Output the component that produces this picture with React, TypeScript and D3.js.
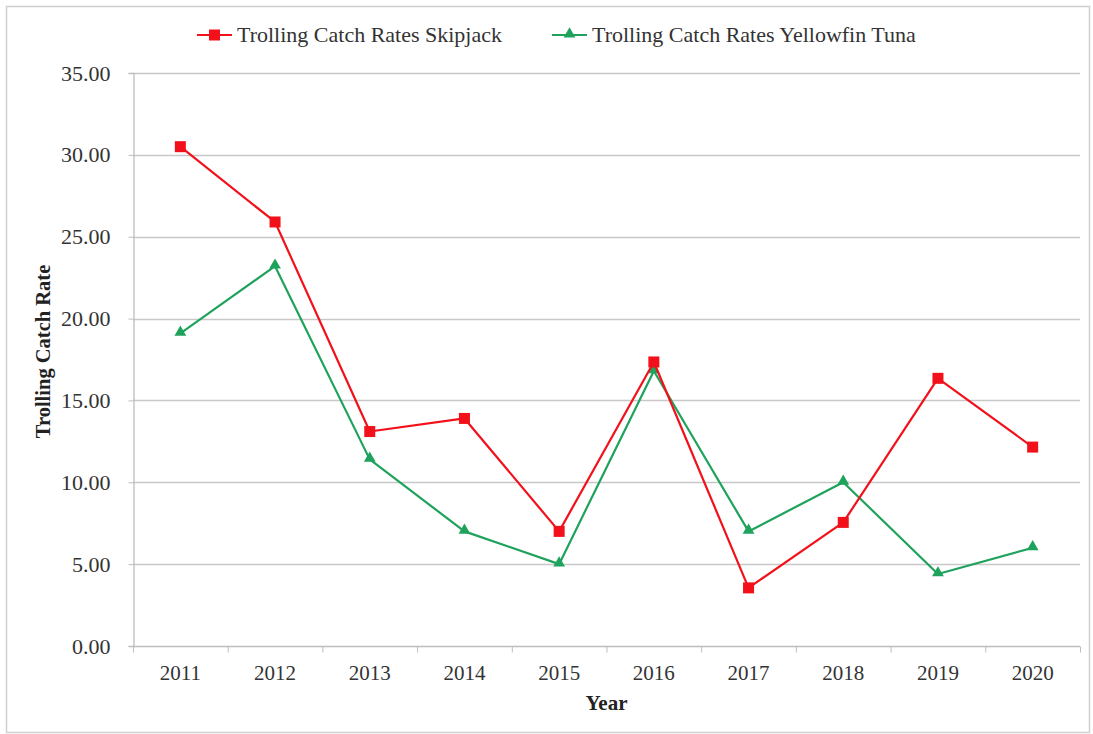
import React, { Component } from "react";
import * as d3 from "d3";

const years = ["2011", "2012", "2013", "2014", "2015", "2016", "2017", "2018", "2019", "2020"];
const skipjack = [30.5, 25.9, 13.1, 13.9, 7.0, 17.35, 3.55, 7.55, 16.35, 12.15];
const yellowfin = [19.1, 23.2, 11.4, 7.0, 5.0, 16.8, 7.0, 10.0, 4.4, 6.0];
const yTicks = [0, 5, 10, 15, 20, 25, 30, 35];
const seriesNames = ["Trolling Catch Rates Skipjack", "Trolling Catch Rates Yellowfin Tuna"];

class CatchRateChart extends Component<any> {
  myRef: React.RefObject<HTMLDivElement | null>;

  constructor(props: any) {
    super(props);
    this.myRef = React.createRef();
  }

  drawGraph = () => {
    var W = 1093;
    var H = 734;
    var margin = { top: 73, right: 13, bottom: 88, left: 133 };
    var width = W - margin.left - margin.right;
    var height = H - margin.top - margin.bottom;
    var font = "'Liberation Serif', 'Times New Roman', serif";

    d3.select(this.myRef.current).select("svg").remove();

    var root = d3
      .select(this.myRef.current)
      .append("svg")
      .attr("width", W)
      .attr("height", H)
      .style("display", "block")
      .style("background", "#fff");

    // outer chart frame
    root
      .append("rect")
      .attr("x", 6.5)
      .attr("y", 6.5)
      .attr("width", W - 10)
      .attr("height", H - 8)
      .attr("fill", "#fff")
      .attr("stroke", "#d0d0d0")
      .attr("stroke-width", 1.5);

    var svg = root.append("g").attr("transform", `translate(${margin.left},${margin.top})`);

    var x = d3.scaleBand().domain(years).range([0, width]);
    var y = d3.scaleLinear().domain([0, 35]).range([height, 0]);

    // gridlines
    svg
      .selectAll(".grid")
      .data(yTicks.filter((t) => t > 0))
      .enter()
      .append("line")
      .attr("x1", 0)
      .attr("x2", width)
      .attr("y1", (d) => Math.round(y(d)) + 0.5)
      .attr("y2", (d) => Math.round(y(d)) + 0.5)
      .attr("stroke", "#c8c8c8")
      .attr("stroke-width", 1.3);

    // y axis
    var yAxis = svg
      .append("g")
      .attr("transform", "translate(0.5,0)")
      .call(d3.axisLeft(y).tickValues(yTicks).tickSize(5).tickPadding(18).tickFormat(d3.format(".2f")));
    yAxis.attr("font-family", font).attr("font-size", 22);
    yAxis.select(".domain").attr("stroke", "#bdbdbd").attr("stroke-width", 1.3);
    yAxis.selectAll(".tick line").attr("stroke", "#bdbdbd");
    yAxis.selectAll("text").attr("fill", "#333");

    // x axis, ticks between categories
    var xAxis = svg.append("g").attr("transform", `translate(0,${height + 0.5})`);
    xAxis
      .append("line")
      .attr("x1", 0)
      .attr("x2", width)
      .attr("stroke", "#bdbdbd")
      .attr("stroke-width", 1.3);
    var bounds = years.map((d) => x(d) as number).concat([width]);
    xAxis
      .selectAll(".xtick")
      .data(bounds)
      .enter()
      .append("line")
      .attr("x1", (d) => d + 0.5)
      .attr("x2", (d) => d + 0.5)
      .attr("y1", 0)
      .attr("y2", 6)
      .attr("stroke", "#bdbdbd");
    xAxis
      .selectAll(".xlabel")
      .data(years)
      .enter()
      .append("text")
      .attr("x", (d) => (x(d) as number) + x.bandwidth() / 2)
      .attr("y", 33)
      .attr("text-anchor", "middle")
      .attr("font-family", font)
      .attr("font-size", 21)
      .attr("fill", "#333")
      .text((d) => d);

    // axis titles
    root
      .append("text")
      .attr("x", margin.left + width / 2)
      .attr("y", 710)
      .attr("text-anchor", "middle")
      .attr("font-family", font)
      .attr("font-size", 21)
      .attr("font-weight", "bold")
      .attr("fill", "#222")
      .text("Year");
    root
      .append("text")
      .attr("transform", `translate(50,${margin.top + height / 2 - 8}) rotate(-90)`)
      .attr("text-anchor", "middle")
      .attr("font-family", font)
      .attr("font-size", 20.5)
      .attr("font-weight", "bold")
      .attr("fill", "#222")
      .text("Trolling Catch Rate");

    var cx = (d: string) => (x(d) as number) + x.bandwidth() / 2;
    var line = d3
      .line<number>()
      .x((d, i) => cx(years[i]))
      .y((d) => y(d));

    var colors = ["#f2111b", "#1fa25c"];

    // yellowfin first so skipjack sits on top
    svg
      .append("path")
      .datum(yellowfin)
      .attr("fill", "none")
      .attr("stroke", colors[1])
      .attr("stroke-width", 2.2)
      .attr("stroke-linejoin", "round")
      .attr("d", line);
    var tri = d3.symbol().type(d3.symbolTriangle).size(60);
    svg
      .selectAll(".tri")
      .data(yellowfin)
      .enter()
      .append("path")
      .attr("transform", (d, i) => `translate(${cx(years[i])},${y(d) - 1})`)
      .attr("d", tri)
      .attr("fill", colors[1]);

    svg
      .append("path")
      .datum(skipjack)
      .attr("fill", "none")
      .attr("stroke", colors[0])
      .attr("stroke-width", 2.2)
      .attr("stroke-linejoin", "round")
      .attr("d", line);
    svg
      .selectAll(".sq")
      .data(skipjack)
      .enter()
      .append("rect")
      .attr("x", (d, i) => cx(years[i]) - 5.5)
      .attr("y", (d) => y(d) - 5.5)
      .attr("width", 11)
      .attr("height", 11)
      .attr("fill", colors[0]);

    // legend
    var legend = root.append("g").attr("transform", "translate(0,35)");
    var legendX = [197, 552];
    seriesNames.forEach((name, i) => {
      var g = legend.append("g").attr("transform", `translate(${legendX[i]},0)`);
      g.append("line")
        .attr("x1", 0)
        .attr("x2", 35)
        .attr("stroke", colors[i])
        .attr("stroke-width", 2.2);
      if (i === 0) {
        g.append("rect").attr("x", 12).attr("y", -5.5).attr("width", 11).attr("height", 11).attr("fill", colors[i]);
      } else {
        g.append("path").attr("transform", "translate(17.5,-1)").attr("d", tri).attr("fill", colors[i]);
      }
      g.append("text")
        .attr("x", 40)
        .attr("y", 7)
        .attr("font-family", font)
        .attr("font-size", 22)
        .attr("fill", "#333")
        .text(name);
    });
  };

  componentDidMount() {
    this.drawGraph();
  }

  render() {
    return <div ref={this.myRef} style={{ position: "absolute", left: 0, top: 0 }}></div>;
  }
}

export default function App() {
  return <CatchRateChart />;
}
